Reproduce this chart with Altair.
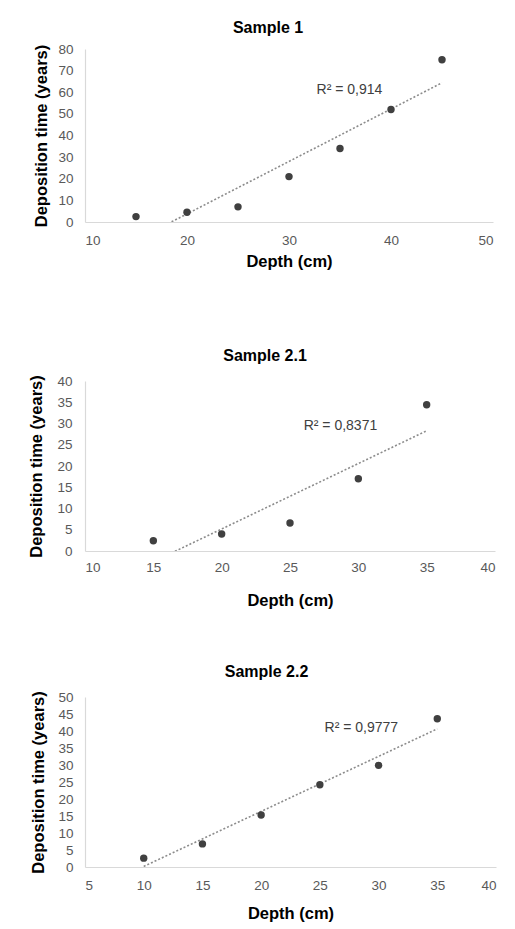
import altair as alt
import pandas as pd

# ---- data ----
s1_depth = [15, 20, 25, 30, 35, 40, 45]
s1_time = [2.5, 4.5, 7, 21, 34, 52, 75]

s21_depth = [15, 20, 25, 30, 35]
s21_time = [2.4, 4, 6.6, 17, 34.4]

s22_depth = [10, 15, 20, 25, 30, 35]
s22_time = [2.6, 6.8, 15.3, 24.2, 29.9, 43.6]

titles = ["Sample 1", "Sample 2.1", "Sample 2.2"]
r2_labels = ["R² = 0,914", "R² = 0,8371", "R² = 0,9777"]
r2_x = [32.7, 26.0, 25.4]
r2_y = [61, 29.4, 40.8]

x_domains = [[10, 50], [10, 40], [5, 40]]
x_ticks = [list(range(10, 51, 10)), list(range(10, 41, 5)), list(range(5, 41, 5))]
y_domains = [[0, 80], [0, 40], [0, 50]]
y_ticks = [list(range(0, 81, 10)), list(range(0, 41, 5)), list(range(0, 51, 5))]

FONT = "Liberation Sans"
POINT = "#404040"
LINE = "#8c8c8c"


def panel(i, depth, time, w, h, title_dx, title_offset, x_lpad, x_tpad, y_lpad, y_tpad):
    df = pd.DataFrame({"depth": depth, "time": time})
    ann = pd.DataFrame({"x": [r2_x[i]], "y": [r2_y[i]], "t": [r2_labels[i]]})

    xs = alt.Scale(domain=x_domains[i], nice=False, zero=False)
    ys = alt.Scale(domain=y_domains[i], nice=False, zero=False)
    xax = alt.Axis(values=x_ticks[i], title="Depth (cm)", labelPadding=x_lpad,
                   titlePadding=x_tpad)
    yax = alt.Axis(values=y_ticks[i], title="Deposition time (years)",
                   labelPadding=y_lpad, titlePadding=y_tpad)

    base = alt.Chart(df)
    trend = base.transform_regression("depth", "time").mark_line(
        color=LINE, strokeDash=[2, 2], strokeWidth=1.6, clip=True
    ).encode(x=alt.X("depth:Q", scale=xs, axis=xax), y=alt.Y("time:Q", scale=ys, axis=yax))
    pts = base.mark_circle(size=55, color=POINT, opacity=1).encode(
        x=alt.X("depth:Q", scale=xs, axis=xax), y=alt.Y("time:Q", scale=ys, axis=yax))
    txt = alt.Chart(ann).mark_text(align="left", baseline="middle", fontSize=14,
                                   color="#404040", font=FONT).encode(
        x=alt.X("x:Q", scale=xs, axis=xax), y=alt.Y("y:Q", scale=ys, axis=yax), text="t:N")
    return alt.layer(trend, pts, txt).properties(
        width=w, height=h,
        title=alt.TitleParams(titles[i], dx=title_dx, offset=title_offset, anchor="middle",
                              fontSize=16, fontWeight="bold", font=FONT, color="#000000"),
    )


p1 = panel(0, s1_depth, s1_time, 408, 173, -21, 6, 11, 7, 12, 8)
p2 = panel(1, s21_depth, s21_time, 410, 170, -25, 10, 9, 19, 13, 12)
p3 = panel(2, s22_depth, s22_time, 411, 170, -24, 10, 11, 14, 12, 11)

chart = alt.vconcat(p1, alt.vconcat(p2, p3, spacing=55), spacing=78).properties(
    padding={"left": 20, "top": 12, "right": 5, "bottom": 5}
).configure(font=FONT, background="white").configure_view(stroke=None).configure_axis(
    domainColor="#d9d9d9", domainWidth=1.2, ticks=False, tickSize=0, grid=False,
    labelColor="#595959", labelFont=FONT, labelFontSize=13.5,
    titleColor="#000000", titleFont=FONT, titleFontSize=16.5, titleFontWeight="bold",
)

chart.save("out.html", embed_options={"renderer": "svg", "actions": False})
